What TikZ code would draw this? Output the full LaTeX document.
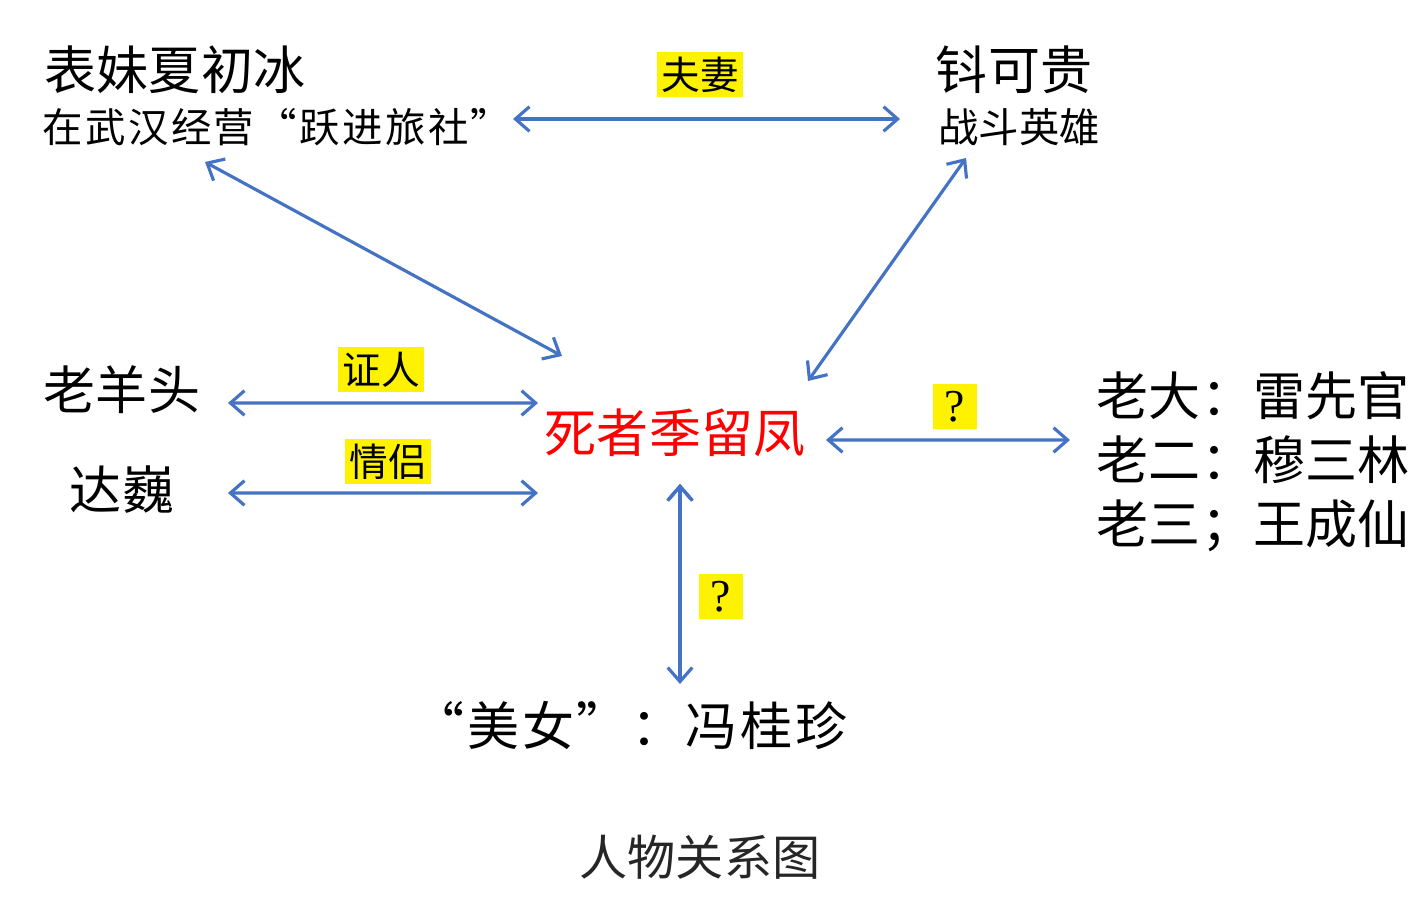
\documentclass[tikz,border=0pt]{standalone}
\usepackage{fontspec}
\setmainfont{Noto Sans CJK SC}
\newfontfamily\qfont{Liberation Serif}
\usepackage{tikz}
\usetikzlibrary{arrows.meta,calc}

\tikzset{
  person/.style={inner sep=0pt,font=\fontsize{14.8pt}{18.2pt}\selectfont},
  note/.style={inner sep=0pt,font=\fontsize{11.5pt}{14pt}\selectfont},
  tag/.style={fill=yellow,inner sep=0.04cm,minimum height=0.45cm,font=\fontsize{11pt}{13pt}\selectfont},
  qtag/.style={fill=yellow,minimum width=0.44cm,minimum height=0.45cm,inner sep=0pt,font=\qfont\fontsize{13pt}{15pt}\selectfont},
  rel/.style={<->,>={Straight Barb[length=4pt,width=7pt]},line width=0.9pt,draw={rgb,255:red,68;green,114;blue,196}}
}

\begin{document}
\begin{tikzpicture}
		\useasboundingbox (0,0) rectangle (14.24,8.98);
		\node[person]                  (bm)     at (1.75,8.28)   {表妹夏初冰};
		\node[note]                    (bmsub)  at (2.77,7.71)   {\addfontfeature{LetterSpace=6}在武汉经营“跃进旅社”};
		\node[person]                  (qkg)    at (10.14,8.28)  {钭可贵};
		\node[note]                    (qkgsub) at (10.19,7.71)  {战斗英雄};
		\node[tag]                     (fq)     at (7.00,8.23)   {夫妻};
		\node[person]                  (lyt)    at (1.22,5.08)   {老羊头};
		\node[tag]                     (zr)     at (3.81,5.28)   {证人};
		\node[person]                  (dw)     at (1.22,4.08)   {达巍};
		\node[tag]                     (ql)     at (3.88,4.36)   {情侣};
		\node[person,text=red]         (sz)     at (6.75,4.65)   {死者季留凤};
		\node[qtag]                    (q1)     at (9.55,4.91)   {?};
		\node[person,align=left]       (lao)    at (12.53,4.36)  {老大：雷先官\\老二：穆三林\\老三；王成仙};
		\node[qtag]                    (q2)     at (7.21,3.01)   {?};
		\node[person]                  (mn)     at (6.30,1.73)   {\addfontfeature{LetterSpace=5}“美女”：冯桂珍};
		\node[person,font=\fontsize{13.7pt}{16pt}\selectfont,text=black!85] (title) at (7.00,0.41) {人物关系图};
		\path[rel] ([shift={(2.36,0.08)}]bmsub.center)  edge ([shift={(-1.19,0.08)}]qkgsub.center)
		           ([shift={(-0.72,-0.35)}]bmsub.center) edge ([shift={(-1.13,0.77)}]sz.center)
		           ([shift={(-0.53,-0.31)}]qkgsub.center) edge ([shift={(1.33,0.52)}]sz.center)
		           ([shift={(1.06,-0.13)}]lyt.center)    edge ([shift={(-1.37,0.30)}]sz.center)
		           ([shift={(1.06,-0.03)}]dw.center)     edge ([shift={(-1.37,-0.60)}]sz.center)
		           ([shift={(1.51,-0.07)}]sz.center)     edge ([shift={(-1.83,0.22)}]lao.center)
		           ([shift={(0.05,-0.51)}]sz.center)     edge ([shift={(0.50,0.41)}]mn.center);
		\end{tikzpicture}
\end{document}
